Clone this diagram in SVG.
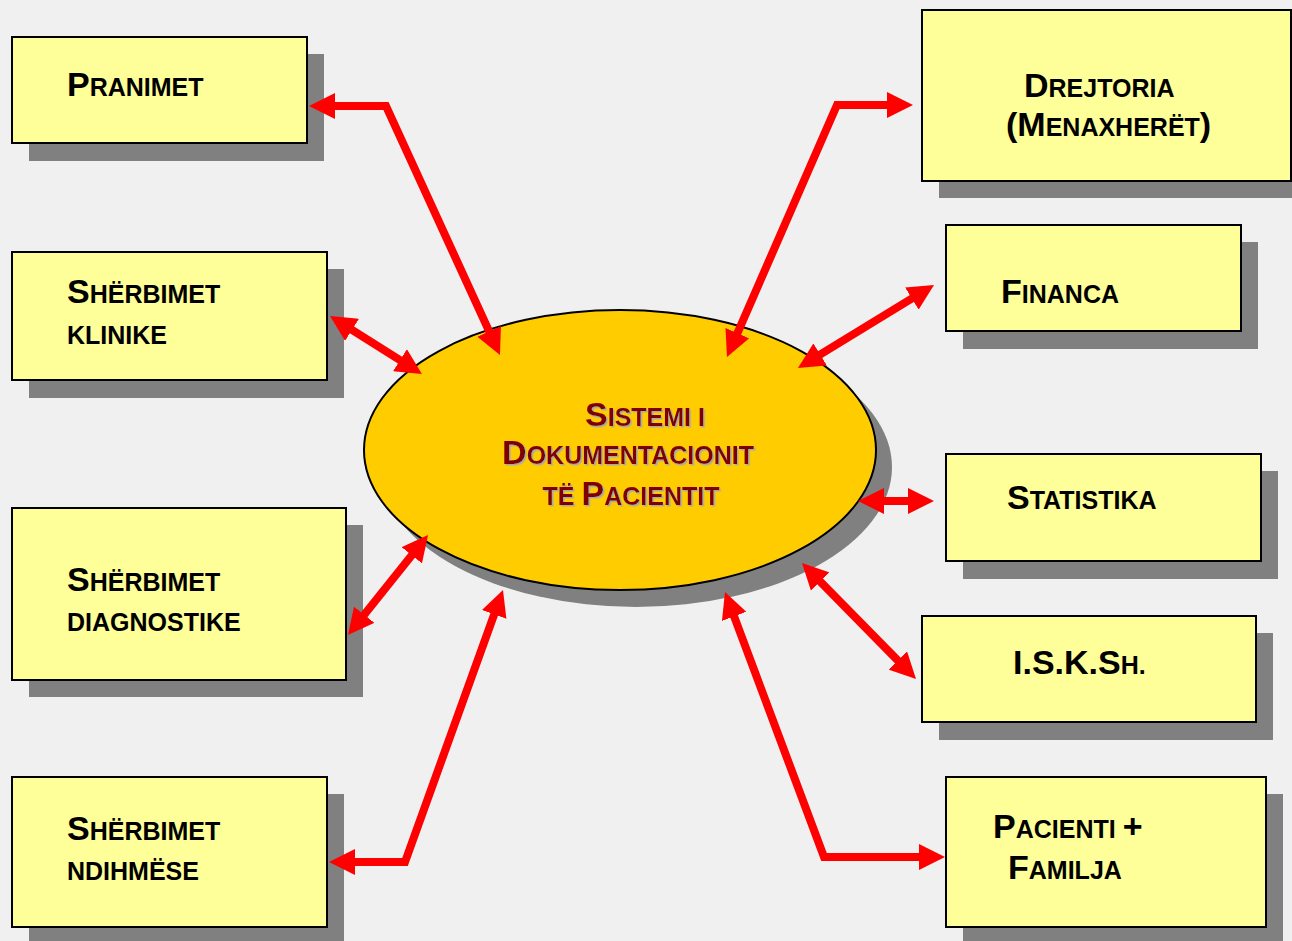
<svg xmlns="http://www.w3.org/2000/svg" width="1292" height="941" viewBox="0 0 1292 941">
<style>
.box{fill:#ffff99;stroke:#000;stroke-width:2}
.sh{fill:#808080}
.t{font-family:"Liberation Sans",Arial,sans-serif;font-weight:bold;font-size:25px;fill:#000}
.b{font-size:34px}
.c{font-family:"Liberation Sans",Arial,sans-serif;font-weight:bold;font-size:25px;fill:#800000;filter:url(#ts)}
.arr{fill:none;stroke:#ff0000;stroke-width:8;marker-start:url(#ah);marker-end:url(#ah)}
</style>
<defs>
<marker id="ah" viewBox="0 0 26 26" refX="16" refY="13" markerWidth="26" markerHeight="26" markerUnits="userSpaceOnUse" orient="auto-start-reverse">
<path d="M0,0 L26,13 L0,26 z" fill="#ff0000"/>
</marker>
<filter id="ts" x="-5%" y="-20%" width="110%" height="140%">
<feDropShadow dx="1.5" dy="1.5" stdDeviation="0" flood-color="#a8a8a8"/>
</filter>
</defs>
<rect width="1292" height="941" fill="#f0f0f0"/>

<g id="center">
<ellipse cx="636" cy="467" rx="256" ry="140" class="sh"/>
<ellipse cx="620" cy="450" rx="256" ry="140" fill="#ffcc00" stroke="#000" stroke-width="2"/>
<text class="c" x="645" y="426" text-anchor="middle"><tspan class="b">S</tspan>ISTEMI I</text>
<text class="c" x="628" y="464" text-anchor="middle"><tspan class="b">D</tspan>OKUMENTACIONIT</text>
<text class="c" x="631" y="505" text-anchor="middle">TË <tspan class="b">P</tspan>ACIENTIT</text>
</g>

<g id="pranimet">
<rect x="29" y="54" width="295" height="107" class="sh"/>
<rect x="12" y="37" width="295" height="106" class="box"/>
<text class="t" x="67" y="96"><tspan class="b">P</tspan>RANIMET</text>
</g>
<g id="klinike">
<rect x="29" y="269" width="315" height="129" class="sh"/>
<rect x="12" y="252" width="315" height="128" class="box"/>
<text class="t" x="67" y="303"><tspan class="b">S</tspan>HËRBIMET</text>
<text class="t" x="67" y="344">KLINIKE</text>
</g>
<g id="diagnostike">
<rect x="29" y="525" width="334" height="172" class="sh"/>
<rect x="12" y="508" width="334" height="172" class="box"/>
<text class="t" x="67" y="591"><tspan class="b">S</tspan>HËRBIMET</text>
<text class="t" x="67" y="631">DIAGNOSTIKE</text>
</g>
<g id="ndihmese">
<rect x="29" y="794" width="315" height="150" class="sh"/>
<rect x="12" y="777" width="315" height="150" class="box"/>
<text class="t" x="67" y="840"><tspan class="b">S</tspan>HËRBIMET</text>
<text class="t" x="67" y="880">NDIHMËSE</text>
</g>

<g id="drejtoria">
<rect x="939" y="27" width="369" height="171" class="sh"/>
<rect x="922" y="10" width="369" height="171" class="box"/>
<text class="t" x="1024" y="97"><tspan class="b">D</tspan>REJTORIA</text>
<text class="t" x="1006" y="136"><tspan class="b">(M</tspan>ENAXHERËT<tspan class="b">)</tspan></text>
</g>
<g id="financa">
<rect x="963" y="242" width="295" height="107" class="sh"/>
<rect x="946" y="225" width="295" height="106" class="box"/>
<text class="t" x="1001" y="303"><tspan class="b">F</tspan>INANCA</text>
</g>
<g id="statistika">
<rect x="963" y="471" width="315" height="108" class="sh"/>
<rect x="946" y="454" width="315" height="107" class="box"/>
<text class="t" x="1007" y="509"><tspan class="b">S</tspan>TATISTIKA</text>
</g>
<g id="isksh">
<rect x="939" y="633" width="334" height="107" class="sh"/>
<rect x="922" y="616" width="334" height="106" class="box"/>
<text class="t" x="1013" y="674"><tspan class="b">I.S.K.S</tspan>H.</text>
</g>
<g id="pacienti">
<rect x="963" y="794" width="320" height="150" class="sh"/>
<rect x="946" y="777" width="320" height="150" class="box"/>
<text class="t" x="993" y="838"><tspan class="b">P</tspan>ACIENTI <tspan class="b">+</tspan></text>
<text class="t" x="1008" y="879"><tspan class="b">F</tspan>AMILJA</text>
</g>

<g id="connectors">
<path class="arr" d="M319,106 L386,106 L495.8,345.9"/>
<path class="arr" d="M731,347.8 L837,105 L903,105"/>
<path class="arr" d="M338.5,321.3 L413.5,368.7"/>
<path class="arr" d="M925.5,290.2 L806.5,362.8"/>
<path class="arr" d="M868,501 L924,501"/>
<path class="arr" d="M809,570.1 L909,671.9"/>
<path class="arr" d="M728.5,601.4 L824,857 L935,857"/>
<path class="arr" d="M354.2,627.2 L421.8,542.8"/>
<path class="arr" d="M339,862 L405,862 L499.6,599.4"/>
</g>
</svg>
